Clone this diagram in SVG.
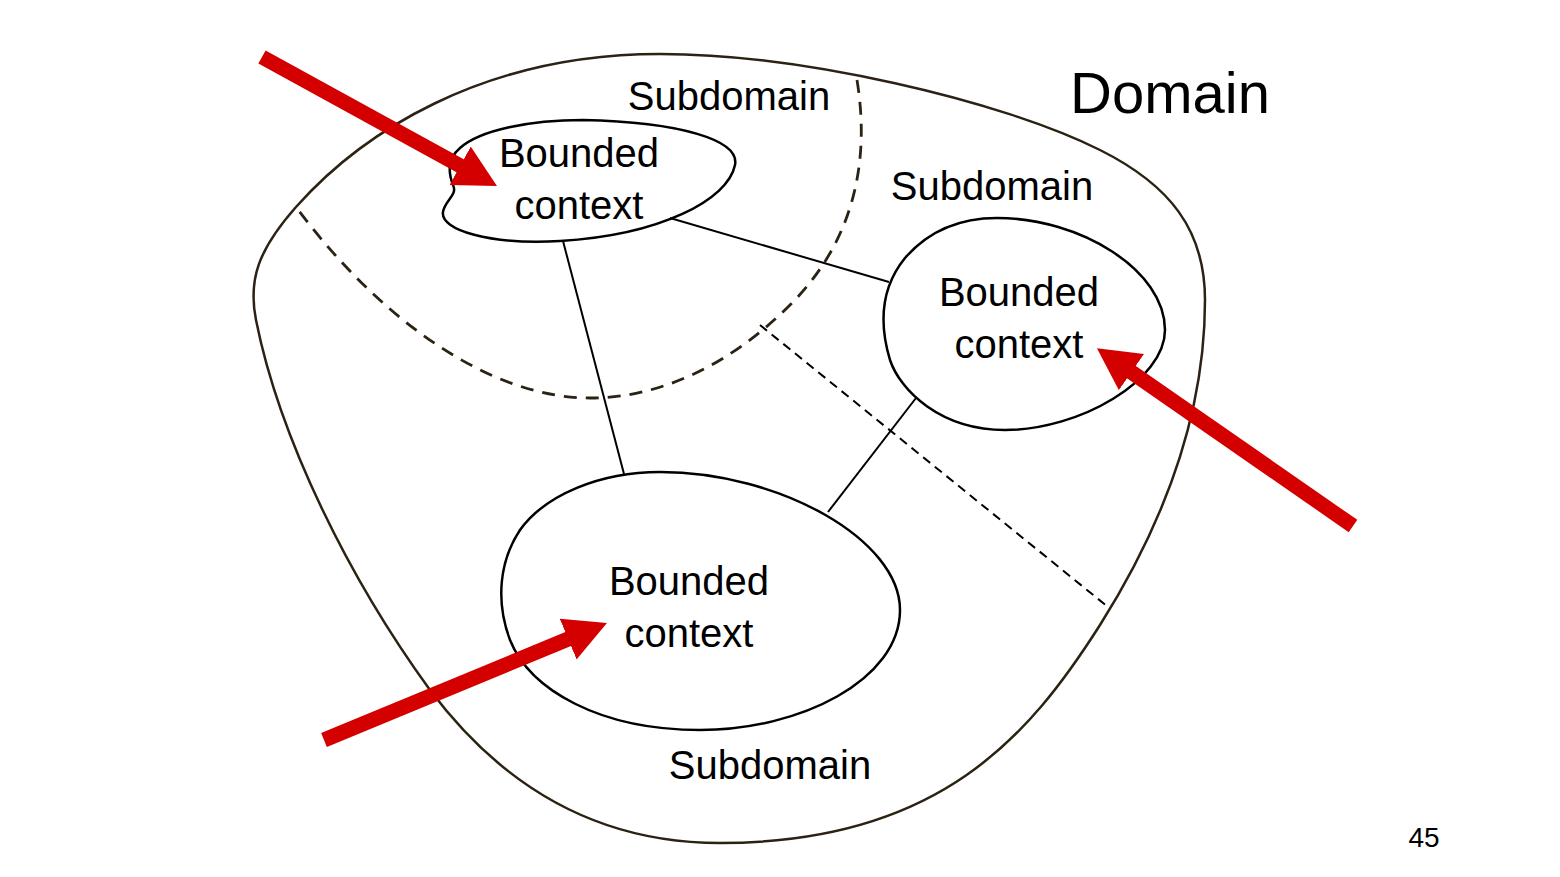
<svg xmlns="http://www.w3.org/2000/svg" width="1560" height="877" viewBox="0 0 1560 877">
<style>
.lbl{font-family:"Liberation Sans",Arial,sans-serif;font-size:40px;fill:#000;text-anchor:middle}
.bc{fill:none;stroke:#000;stroke-width:2.5}
.link{stroke:#000;stroke-width:2;fill:none}
.dash1{fill:none;stroke:#2b2214;stroke-width:2.8;stroke-dasharray:13 9}
.dash2{fill:none;stroke:#000;stroke-width:2;stroke-dasharray:9 6}
.red{stroke:#d40000;stroke-width:15;fill:none}
</style>
<defs>
<marker id="head" markerUnits="userSpaceOnUse" markerWidth="44" markerHeight="46" refX="2" refY="22" orient="auto">
<path d="M0,0 L42,22 L0,44 Z" fill="#d40000"/>
</marker>
</defs>
<rect width="1560" height="877" fill="#fff"/>
<g id="domain">
<path d="M 660,54 C 800,54 1000,100 1100,150 C 1170,185 1205,230 1205,300 C 1205,420 1160,530 1100,625 C 1030,735 940,843 720,843 C 580,843 490,770 430,690 C 350,580 280,440 256,320 C 248,280 258,250 296,207 C 360,135 480,54 660,54 Z" fill="none" stroke="#2b2214" stroke-width="2.5"/>
<text x="1170" y="113" style="font-family:'Liberation Sans',Arial,sans-serif;font-size:58px;text-anchor:middle">Domain</text>
</g>
<g id="subdomain-boundaries">
<path class="dash1" d="M 857,80 C 870,160 855,240 790,305 C 730,365 660,398 590,398 C 490,398 380,320 296,207"/>
<path class="dash2" d="M 760,325 L 1108,607"/>
</g>
<g id="subdomain-top"><text class="lbl" x="729" y="110">Subdomain</text></g>
<g id="subdomain-right"><text class="lbl" x="992" y="200">Subdomain</text></g>
<g id="subdomain-bottom"><text class="lbl" x="770" y="779">Subdomain</text></g>
<g id="connectors">
<line class="link" x1="563" y1="241" x2="624" y2="474"/>
<line class="link" x1="670" y1="218" x2="889" y2="282"/>
<line class="link" x1="916" y1="398" x2="828" y2="512"/>
</g>
<g id="bc-top">
<path class="bc" fill="#fff" d="M 583,120 C 680,122 740,140 735,165 C 728,200 660,235 560,241 C 490,245 440,230 443,212 C 445,200 458,195 453,185 C 448,172 448,158 460,148 C 480,130 530,120 583,120 Z"/>
<text class="lbl" x="579" y="167">Bounded</text>
<text class="lbl" x="579" y="219">context</text>
</g>
<g id="bc-right">
<path class="bc" d="M 997,218 C 1080,218 1165,270 1165,330 C 1165,380 1080,430 1005,430 C 940,430 900,390 890,360 C 878,320 883,285 905,258 C 925,235 955,218 997,218 Z"/>
<text class="lbl" x="1019" y="306">Bounded</text>
<text class="lbl" x="1019" y="358">context</text>
</g>
<g id="bc-bottom">
<path class="bc" d="M 660,472 C 780,472 900,540 900,610 C 900,680 800,730 700,730 C 600,730 530,690 510,640 C 495,600 500,560 520,530 C 545,495 600,472 660,472 Z"/>
<text class="lbl" x="689" y="595">Bounded</text>
<text class="lbl" x="689" y="647">context</text>
</g>
<g id="arrows">
<line class="red" x1="262" y1="57" x2="461.9" y2="166.8" marker-end="url(#head)"/>
<line class="red" x1="1353" y1="526" x2="1129.8" y2="371" marker-end="url(#head)"/>
<line class="red" x1="324" y1="740" x2="570" y2="638.3" marker-end="url(#head)"/>
</g>
<g id="page-number"><text x="1424" y="847" style="font-family:'Liberation Sans',Arial,sans-serif;font-size:28px;text-anchor:middle">45</text></g>
</svg>
